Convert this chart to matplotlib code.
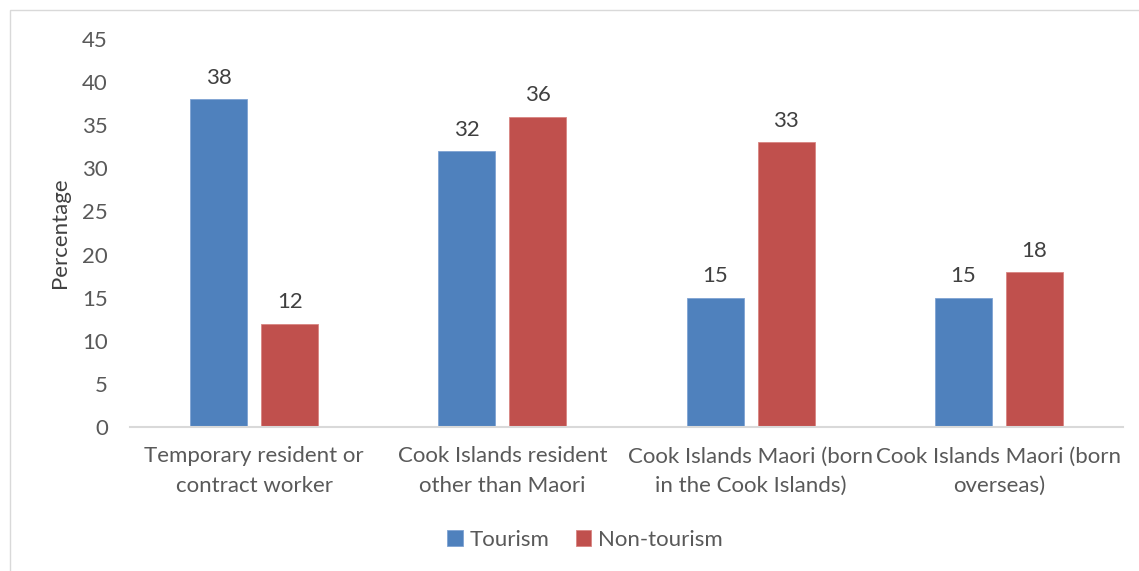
import matplotlib.pyplot as plt
import numpy as np
from matplotlib.patches import Rectangle

# Share of workers by residency group, tourism vs non-tourism
categories = ["Temporary resident or\ncontract worker",
              "Cook Islands resident\nother than Maori",
              "Cook Islands Maori (born\nin the Cook Islands)",
              "Cook Islands Maori (born\noverseas)"]
tourism = [38, 32, 15, 15]
non_tourism = [12, 36, 33, 18]
y_ticks = [0, 5, 10, 15, 20, 25, 30, 35, 40, 45]

blue = "#4f81bd"
red = "#c0504d"
text_col = "#595959"
fs = 16

plt.rcParams['font.family'] = ['Lato', 'DejaVu Sans']

fig = plt.figure(figsize=(11.39, 5.71), dpi=100)
ax = fig.add_axes([130 / 1139, 1 - 427 / 571, 993 / 1139, 388 / 571])

# light frame around the whole chart area
fig.patches.append(Rectangle((10 / 1139, -0.01), 1.1, 1 - 10 / 571 + 0.01,
                             transform=fig.transFigure, fill=False,
                             edgecolor="#d9d9d9", linewidth=1))

x = np.arange(len(categories))
w = 0.23
off = 0.143
b1 = ax.bar(x - off, tourism, w, color=blue, edgecolor="#7fa3d3", linewidth=0.6,
            label="Tourism")
b2 = ax.bar(x + off, non_tourism, w, color=red, edgecolor="#d88582", linewidth=0.6,
            label="Non-tourism")

for bars, vals in ((b1, tourism), (b2, non_tourism)):
    for b, v in zip(bars, vals):
        ax.text(b.get_x() + b.get_width() / 2, v + 1.3, f"{v:.0f}",
                ha="center", va="bottom", fontsize=fs, color="#404040")

ax.set_xlim(-0.5, 3.5)
ax.set_ylim(0, 45)
ax.set_yticks(y_ticks)
ax.set_xticks(x)
ax.set_xticklabels(categories, fontsize=fs, color=text_col, linespacing=1.6)
ax.tick_params(axis="y", labelsize=fs, labelcolor=text_col, length=0, pad=16)
ax.tick_params(axis="x", length=0, pad=14)

for s in ("top", "right", "left"):
    ax.spines[s].set_visible(False)
ax.spines["bottom"].set_color("#d9d9d9")
ax.spines["bottom"].set_linewidth(1.5)

ax.set_ylabel("Percentage", fontsize=fs, color="#404040", labelpad=9)

fig.legend(handles=[b1, b2], loc="center", bbox_to_anchor=(585 / 1139, 1 - 540 / 571),
           ncol=2, frameon=False, fontsize=fs, handlelength=0.7, handleheight=0.7,
           handletextpad=0.3, columnspacing=1.2, labelcolor=text_col)

fig.savefig("out.png", dpi=100)
